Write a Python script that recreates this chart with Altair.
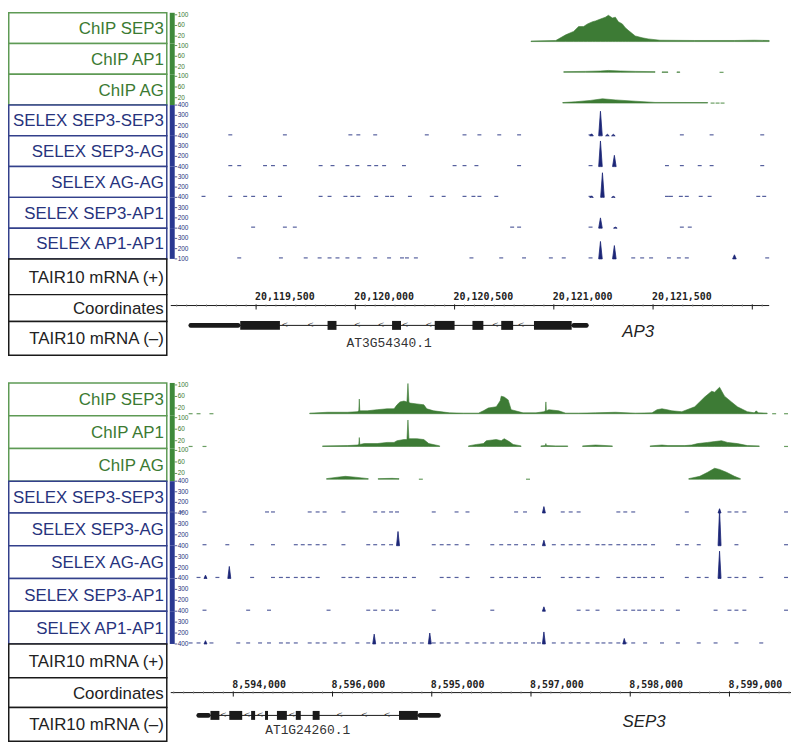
import altair as alt
import pandas as pd

# ------------------------------------------------------------------ data
TRACK_LABELS = ["ChIP SEP3", "ChIP AP1", "ChIP AG", "SELEX SEP3-SEP3", "SELEX SEP3-AG",
                "SELEX AG-AG", "SELEX SEP3-AP1", "SELEX AP1-AP1", "TAIR10 mRNA (+)",
                "Coordinates", "TAIR10 mRNA (\u2013)"]
CHIP_TICKS = [100, 60, 20]
SELEX_TICKS = [400, 300, 200]

# ---- AP3 locus (top panel)
AP3_RANGE = [20119070, 20122085]
AP3_TICK_POS = [20119500, 20120000, 20120500, 20121000, 20121500, 20122000]
AP3_TICK_LABELS = ["20,119,500", "20,120,000", "20,120,500", "20,121,000", "20,121,500", ""]
AP3_LAST_TICK_LABEL = "100"

AP3_CHIP_SEP3 = [[(20120885, 2), (20121010, 4), (20121060, 25), (20121100, 38), (20121125, 56),
                  (20121150, 56), (20121170, 66), (20121195, 74), (20121210, 77), (20121235, 84),
                  (20121260, 91), (20121275, 98), (20121295, 88), (20121310, 91), (20121325, 74),
                  (20121345, 66), (20121360, 52), (20121375, 42), (20121410, 21), (20121445, 14),
                  (20121475, 10), (20121535, 5), (20121710, 4), (20121910, 4), (20122010, 5),
                  (20122085, 4)]]
AP3_CHIP_AP1 = [[(20121050, 2.5), (20121160, 3.5), (20121235, 5), (20121275, 7), (20121335, 5),
                 (20121410, 3.5), (20121510, 2.5)],
                [(20121545, 1.5), (20121575, 1.5)], [(20121620, 1.5), (20121635, 1.5)]]
AP3_CHIP_AG = [[(20121045, 2), (20121110, 5), (20121185, 10), (20121245, 16), (20121310, 12),
                (20121410, 7), (20121510, 2.5), (20121775, 2)]]
AP3_CHIP_DASHES = [[], [20121845], [20121800, 20121825, 20121850]]

AP3_SELEX_SPIKES = [
    [(20121190, 120), (20121235, 340), (20121270, 115), (20121300, 115)],
    [(20121235, 350), (20121305, 210)],
    [(20121190, 110), (20121245, 340), (20121300, 110)],
    [(20121235, 200), (20121310, 110)],
    [(20121235, 270), (20121305, 230), (20121910, 140)],
]
AP3_SELEX_DASHES = [
    [20119370, 20119645, 20119975, 20120015, 20120100, 20120360, 20120550, 20120625, 20120725,
     20120825, 20121185, 20121645, 20121795, 20122050],
    [20119370, 20119415, 20119545, 20119585, 20119645, 20119825, 20119885, 20119960, 20120010,
     20120070, 20120105, 20120145, 20120245, 20120500, 20120550, 20120610, 20120825, 20121185,
     20121570, 20121645, 20121735, 20121795, 20122050],
    [20119235, 20119370, 20119445, 20119485, 20119545, 20119620, 20119825, 20119870, 20119950,
     20119985, 20120015, 20120105, 20120160, 20120185, 20120275, 20120385, 20120445, 20120550,
     20120595, 20120625, 20120710, 20121185, 20121570, 20121590, 20121640, 20121670, 20121740,
     20121785, 20122030, 20122060],
    [20119485, 20119645, 20119695, 20120790, 20120825, 20121185, 20121645, 20121685],
    [20119415, 20119625, 20119750, 20119820, 20119870, 20119910, 20119960, 20120020, 20120100,
     20120170, 20120235, 20120260, 20120305, 20120585, 20120735, 20120850, 20120985, 20121050,
     20121185, 20121400, 20121445, 20121490, 20121580, 20121630, 20121670, 20122075],
]
AP3_EXONS = [(20119420, 20119620), (20119860, 20119905), (20120185, 20120230), (20120400, 20120500),
             (20120590, 20120645), (20120735, 20120795), (20120900, 20121090)]
AP3_UTRS = [(20119160, 20119420), (20121090, 20121175)]
AP3_ARROWS = [20119645, 20119775, 20120010, 20120130, 20120250, 20120370, 20120705, 20120835]
AP3_GENE_ID = ("AT3G54340.1", 20120170)
AP3_GENE_NAME = ("AP3", 20121425)

# ---- SEP3 locus (bottom panel)
SEP3_RANGE = [8593370, 8599620]
SEP3_TICK_POS = [8594000, 8595000, 8596000, 8597000, 8598000, 8599000]
SEP3_TICK_LABELS = ["8,594,000", "8,596,000", "8,595,000", "8,597,000", "8,598,000", "8,599,000"]
SEP3_LAST_TICK_LABEL = "400"

SEP3_CHIP_SEP3 = [[(8594770, 2), (8594950, 5), (8595150, 5), (8595250, 7), (8595265, 10),
                   (8595270, 51), (8595275, 10), (8595290, 10), (8595350, 10), (8595450, 14),
                   (8595550, 17), (8595620, 17), (8595650, 31), (8595680, 41), (8595720, 44),
                   (8595750, 41), (8595760, 105), (8595770, 40), (8595780, 37), (8595850, 34),
                   (8595920, 31), (8595950, 17), (8596020, 10), (8596180, 3), (8596320, 2),
                   (8596470, 2), (8596520, 10), (8596570, 20), (8596650, 24), (8596690, 45),
                   (8596700, 61), (8596730, 58), (8596770, 48), (8596800, 14), (8596920, 3),
                   (8597050, 3), (8597130, 7), (8597145, 10), (8597150, 41), (8597155, 10),
                   (8597180, 14), (8597280, 10), (8597350, 2), (8597480, 2), (8597650, 3),
                   (8597850, 5), (8598050, 2), (8598220, 3), (8598270, 14), (8598320, 17),
                   (8598370, 14), (8598420, 10), (8598520, 7), (8598650, 24), (8598750, 58),
                   (8598820, 78), (8598850, 75), (8598900, 92), (8598950, 61), (8599020, 41),
                   (8599080, 24), (8599180, 7), (8599250, 3), (8599270, 10), (8599290, 3),
                   (8599380, 2)]]
SEP3_CHIP_AP1 = [
    [(8594900, 2), (8595150, 3), (8595250, 5), (8595265, 7), (8595270, 31), (8595275, 7),
     (8595320, 10), (8595450, 10), (8595550, 14), (8595620, 14), (8595650, 20), (8595720, 24),
     (8595750, 24), (8595760, 92), (8595770, 27), (8595800, 27), (8595850, 27), (8595920, 24),
     (8595970, 10), (8596080, 2)],
    [(8596370, 2), (8596450, 7), (8596520, 10), (8596550, 20), (8596650, 24), (8596700, 20),
     (8596730, 27), (8596780, 17), (8596820, 7), (8596900, 2)],
    [(8597100, 2), (8597145, 3), (8597150, 10), (8597155, 3), (8597250, 2), (8597370, 2)],
    [(8597520, 2), (8597650, 5), (8597820, 2)],
    [(8598200, 2), (8598320, 5), (8598380, 3), (8598550, 3), (8598620, 5), (8598680, 10),
     (8598780, 14), (8598850, 17), (8598920, 20), (8598980, 14), (8599080, 10), (8599180, 3),
     (8599300, 2)],
]
SEP3_CHIP_AG = [
    [(8594940, 2), (8595050, 7), (8595130, 10), (8595230, 7), (8595360, 2)],
    [(8595460, 2), (8595600, 3), (8595670, 2)],
    [(8598590, 2), (8598700, 10), (8598780, 24), (8598850, 38), (8598900, 34), (8598970, 24),
     (8599050, 10), (8599110, 2)],
]
SEP3_CHIP_DASHES = [[8593570, 8593650, 8593780, 8599450, 8599570],
                    [8593570, 8593710, 8599570],
                    [8595890, 8596970]]

SEP3_SELEX_SPIKES = [
    [(8597130, 160), (8598900, 140)],
    [(8595660, 230), (8597130, 150), (8598900, 430)],
    [(8593720, 130), (8593960, 210), (8598900, 350)],
    [(8597130, 140)],
    [(8593720, 130), (8595420, 190), (8595980, 200), (8597130, 210), (8597940, 150)],
]
SEP3_SELEX_DASHES = [
    [8593380, 8593480, 8593710, 8594340, 8594400, 8594770, 8594850, 8594920, 8595110, 8595430,
     8595510, 8595590, 8595650, 8596020, 8596250, 8596360, 8596850, 8596940, 8597320, 8597400,
     8597480, 8597880, 8597950, 8598030, 8598570, 8599000, 8599070, 8599150, 8599570],
    [8593710, 8593940, 8594190, 8594400, 8594630, 8594700, 8594770, 8594850, 8594920, 8595110,
     8595360, 8595430, 8595510, 8595590, 8596020, 8596100, 8596170, 8596250, 8596360, 8596610,
     8596700, 8596780, 8596850, 8596940, 8597020, 8597230, 8597320, 8597400, 8597480, 8597570,
     8597670, 8597730, 8597800, 8597880, 8597950, 8598030, 8598090, 8598150, 8598230, 8598480,
     8598570, 8598690, 8599070, 8599570],
    [8593650, 8593840, 8594190, 8594400, 8594480, 8594550, 8594630, 8594700, 8594770, 8594850,
     8595110, 8595180, 8595250, 8595360, 8595430, 8595510, 8595590, 8595650, 8595730, 8595820,
     8596100, 8596170, 8596250, 8596360, 8596610, 8596700, 8596780, 8596850, 8596940, 8597020,
     8597080, 8597320, 8597400, 8597480, 8597570, 8597670, 8597880, 8597950, 8598030, 8598090,
     8598150, 8598230, 8598320, 8598570, 8598690, 8598770, 8599000, 8599070, 8599150, 8599320,
     8599570],
    [8593710, 8594150, 8594360, 8594960, 8595360, 8595430, 8595510, 8595590, 8595650, 8596020,
     8596610, 8597480, 8597570, 8597670, 8597880, 8597950, 8598030, 8598090, 8598150, 8598230,
     8598320, 8598480, 8598860, 8599000, 8599070, 8599150, 8599570],
    [8593570, 8593650, 8593780, 8594050, 8594150, 8594270, 8594360, 8594480, 8594550, 8594630,
     8594770, 8594850, 8594920, 8595030, 8595110, 8595250, 8595360, 8595510, 8595590, 8595650,
     8595730, 8595820, 8595900, 8596020, 8596100, 8596170, 8596250, 8596360, 8596450, 8596530,
     8596610, 8596700, 8596780, 8596850, 8596940, 8597020, 8597080, 8597230, 8597320, 8597400,
     8597480, 8597570, 8597670, 8597730, 8597800, 8597880, 8597950, 8598030, 8598150, 8598320,
     8598480, 8598690, 8598860, 8599070, 8599320],
]
SEP3_EXONS = [(8593770, 8593860), (8593960, 8594090), (8594180, 8594220), (8594320, 8594350),
              (8594440, 8594540), (8594630, 8594680), (8594800, 8594870), (8595670, 8595860)]
SEP3_UTRS = [(8593630, 8593770), (8595860, 8596090)]
SEP3_ARROWS = [8593900, 8594140, 8594270, 8594590, 8595070, 8595320, 8595550]
SEP3_GENE_ID = ("AT1G24260.1", 8594750)
SEP3_GENE_NAME = ("SEP3", 8598140)

# ------------------------------------------------------------------ style
GREEN_FILL = "#3d7b35"
GREEN_DASH = "#6a9e62"
GREEN_TEXT = "#3b7a32"
GREEN_BOX = "#5e9a55"
GREEN_BAR = "#3f8a3a"
BLUE_FILL = "#1c2677"
BLUE_DASH = "#56609e"
BLUE_TEXT = "#27337d"
BLUE_BOX = "#33408b"
BLUE_BAR = "#2a3891"
BLACK = "#1a1a1a"
LABEL_W = 164      # width of the label column (track area starts here)
BOX_RIGHT = 160    # right edge of the label boxes

PANELS = [
    dict(rng=AP3_RANGE, width=603, heights=[31, 31, 31, 31, 31, 31, 31, 31, 36, 27, 34],
         tick_pos=AP3_TICK_POS, tick_labels=AP3_TICK_LABELS, minor_step=50,
         last_label=AP3_LAST_TICK_LABEL,
         chip=[AP3_CHIP_SEP3, AP3_CHIP_AP1, AP3_CHIP_AG], chip_dashes=AP3_CHIP_DASHES,
         spikes=AP3_SELEX_SPIKES, dashes=AP3_SELEX_DASHES, dash_half=10, spike_half=9,
         exons=AP3_EXONS, utrs=AP3_UTRS, arrows=AP3_ARROWS, gid=AP3_GENE_ID, gname=AP3_GENE_NAME,
         axis_y=11, label_y=2, gene_y=4, gid_y=22, gname_y=11),
    dict(rng=SEP3_RANGE, width=625, heights=[33, 33, 33, 32, 33, 33, 33, 33, 34, 30, 34],
         tick_pos=SEP3_TICK_POS, tick_labels=SEP3_TICK_LABELS, minor_step=100,
         last_label=SEP3_LAST_TICK_LABEL,
         chip=[SEP3_CHIP_SEP3, SEP3_CHIP_AP1, SEP3_CHIP_AG], chip_dashes=SEP3_CHIP_DASHES,
         spikes=SEP3_SELEX_SPIKES, dashes=SEP3_SELEX_DASHES, dash_half=20, spike_half=15,
         exons=SEP3_EXONS, utrs=SEP3_UTRS, arrows=SEP3_ARROWS, gid=SEP3_GENE_ID, gname=SEP3_GENE_NAME,
         axis_y=15, label_y=7, gene_y=8, gid_y=23, gname_y=15),
]

DUMMY = pd.DataFrame({"d": [0]})


def xscale(p):
    return alt.Scale(domain=p["rng"], range=[LABEL_W, LABEL_W + p["width"]], nice=False, zero=False)


def label_layers(i, h):
    if i < 3:
        stroke, color = GREEN_BOX, GREEN_TEXT
    elif i < 8:
        stroke, color = BLUE_BOX, BLUE_TEXT
    else:
        stroke, color = BLACK, "#222222"
    df = pd.DataFrame({"label": [TRACK_LABELS[i]]})
    box = alt.Chart(df).mark_rect(fill="white", stroke=stroke, strokeWidth=1.5).encode(
        x=alt.value(0.75), x2=alt.value(BOX_RIGHT), y=alt.value(0), y2=alt.value(h))
    txt = alt.Chart(df).mark_text(align="right", baseline="middle", fontSize=17,
                                  font="Liberation Sans", color=color).encode(
        x=alt.value(BOX_RIGHT - 3), y=alt.value(h / 2 + 1), text="label:N")
    return [box, txt]


def side_axis(h, ys, ticks, labels, bar_color, text_color):
    x0 = LABEL_W
    bar = alt.Chart(DUMMY).mark_rect(color=bar_color).encode(
        x=alt.value(x0 - 1), x2=alt.value(x0 + 4), y=alt.value(0), y2=alt.value(h))
    tdf = pd.DataFrame({"v": ticks, "t": labels})
    tk = alt.Chart(tdf).mark_rule(color=text_color, strokeWidth=0.8).encode(
        x=alt.value(x0 + 4), x2=alt.value(x0 + 6.5), y=alt.Y("v:Q", scale=ys, axis=None))
    tx = alt.Chart(tdf).mark_text(align="left", baseline="middle", fontSize=6.5,
                                  font="Liberation Sans", color=text_color).encode(
        x=alt.value(x0 + 7), y=alt.Y("v:Q", scale=ys, axis=None), text="t:N")
    return [bar, tk, tx]


def dash_layer(centers, half, xs, y, color):
    df = pd.DataFrame({"s": [c - half for c in centers], "e": [c + half for c in centers]})
    return alt.Chart(df).mark_rule(color=color, strokeWidth=1.2).encode(
        x=alt.X("s:Q", scale=xs, axis=None), x2=alt.X2("e"), y=alt.value(y))


def chip_layers(p, i, h):
    xs = xscale(p)
    k = (h - 4) / 100.0
    ys = alt.Scale(domain=[-2 / k, (h - 2) / k], nice=False, zero=False)
    rows = []
    for s, seg in enumerate(p["chip"][i]):
        for pos, val in seg:
            rows.append({"pos": pos, "val": val, "seg": s, "base": 0})
    area = alt.Chart(pd.DataFrame(rows)).mark_area(
        color=GREEN_FILL, stroke=GREEN_FILL, strokeWidth=0.6, interpolate="linear").encode(
        x=alt.X("pos:Q", scale=xs, axis=None), y=alt.Y("val:Q", scale=ys, axis=None),
        y2=alt.Y2("base"), detail="seg:N")
    layers = side_axis(h, ys, CHIP_TICKS, [str(t) for t in CHIP_TICKS], GREEN_BAR, GREEN_TEXT)
    if p["chip_dashes"][i]:
        layers.append(dash_layer(p["chip_dashes"][i], p["dash_half"], xs, h - 2, GREEN_DASH))
    layers.append(area)
    return layers


def selex_layers(p, j, h, last):
    xs = xscale(p)
    ys = alt.Scale(domain=[100, 400], nice=False, zero=False)
    rows = []
    for s, (c, v) in enumerate(p["spikes"][j]):
        hw = p["spike_half"]
        rows += [{"pos": c - hw, "val": 100, "seg": s, "base": 100},
                 {"pos": c, "val": v, "seg": s, "base": 100},
                 {"pos": c + hw, "val": 100, "seg": s, "base": 100}]
    spikes = alt.Chart(pd.DataFrame(rows)).mark_area(
        color=BLUE_FILL, stroke=BLUE_FILL, strokeWidth=0.8, interpolate="linear").encode(
        x=alt.X("pos:Q", scale=xs, axis=None), y=alt.Y("val:Q", scale=ys, axis=None),
        y2=alt.Y2("base"), detail="seg:N")
    ticks = list(SELEX_TICKS)
    labels = [str(t) for t in SELEX_TICKS]
    if last:
        ticks.append(100)
        labels.append(p["last_label"])
    layers = side_axis(h, ys, ticks, labels, BLUE_BAR, BLUE_TEXT)
    layers.append(dash_layer(p["dashes"][j], p["dash_half"], xs, h - 1, BLUE_DASH))
    layers.append(spikes)
    return layers


def coord_layers(p, h):
    xs = xscale(p)
    ay = p["axis_y"]
    lo, hi = p["rng"]
    first = (lo // p["minor_step"] + 1) * p["minor_step"]
    minor = pd.DataFrame({"pos": list(range(int(first), int(hi), p["minor_step"]))})
    major = pd.DataFrame({"pos": p["tick_pos"], "t": p["tick_labels"]})
    line = alt.Chart(DUMMY).mark_rule(color=BLACK, strokeWidth=1).encode(
        x=alt.value(LABEL_W), x2=alt.value(LABEL_W + p["width"]), y=alt.value(ay))
    mn = alt.Chart(minor).mark_rule(color="#9a9a9a", strokeWidth=0.7).encode(
        x=alt.X("pos:Q", scale=xs, axis=None), y=alt.value(ay - 1.5), y2=alt.value(ay + 1.5))
    mj = alt.Chart(major).mark_rule(color=BLACK, strokeWidth=1).encode(
        x=alt.X("pos:Q", scale=xs, axis=None), y=alt.value(ay - 1), y2=alt.value(ay + 4))
    tx = alt.Chart(major).mark_text(align="left", baseline="middle", dx=-1, fontSize=10,
                                    font="DejaVu Sans Mono", fontWeight="bold",
                                    color="#222222").encode(
        x=alt.X("pos:Q", scale=xs, axis=None), y=alt.value(p["label_y"]), text="t:N")
    return [line, mn, mj, tx]


def gene_layers(p, h):
    xs = xscale(p)
    gy = p["gene_y"]
    starts = [a for a, b in p["utrs"] + p["exons"]]
    ends = [b for a, b in p["utrs"] + p["exons"]]
    span = pd.DataFrame({"s": [min(starts)], "e": [max(ends)]})
    intron = alt.Chart(span).mark_rule(color=BLACK, strokeWidth=1).encode(
        x=alt.X("s:Q", scale=xs, axis=None), x2=alt.X2("e"), y=alt.value(gy))
    arrows = alt.Chart(pd.DataFrame({"pos": p["arrows"]})).mark_text(
        text="<", fontSize=8, font="DejaVu Sans", color="#333333", baseline="middle").encode(
        x=alt.X("pos:Q", scale=xs, axis=None), y=alt.value(gy))
    utr = alt.Chart(pd.DataFrame(p["utrs"], columns=["s", "e"])).mark_rect(
        color=BLACK, cornerRadius=2).encode(
        x=alt.X("s:Q", scale=xs, axis=None), x2=alt.X2("e"),
        y=alt.value(gy - 2.3), y2=alt.value(gy + 2.3))
    exon = alt.Chart(pd.DataFrame(p["exons"], columns=["s", "e"])).mark_rect(color=BLACK).encode(
        x=alt.X("s:Q", scale=xs, axis=None), x2=alt.X2("e"),
        y=alt.value(gy - 4.5), y2=alt.value(gy + 4.5))
    gid = alt.Chart(pd.DataFrame({"t": [p["gid"][0]], "pos": [p["gid"][1]]})).mark_text(
        font="Liberation Mono", fontSize=13, color="#333333", baseline="middle").encode(
        x=alt.X("pos:Q", scale=xs, axis=None), y=alt.value(p["gid_y"]), text="t:N")
    gname = alt.Chart(pd.DataFrame({"t": [p["gname"][0]], "pos": [p["gname"][1]]})).mark_text(
        font="Liberation Sans", fontStyle="italic", fontSize=17, color="#222222",
        baseline="middle").encode(
        x=alt.X("pos:Q", scale=xs, axis=None), y=alt.value(p["gname_y"]), text="t:N")
    return [intron, arrows, utr, exon, gid, gname]


def panel_rows(p):
    rows = []
    for i, h in enumerate(p["heights"]):
        layers = label_layers(i, h)
        if i < 3:
            layers += chip_layers(p, i, h)
        elif i < 8:
            layers += selex_layers(p, i - 3, h, last=(i == 7))
        elif i == 9:
            layers += coord_layers(p, h)
        elif i == 10:
            layers += gene_layers(p, h)
        rows.append(alt.layer(*layers).properties(width=LABEL_W + p["width"], height=h))
    return rows


spacer = alt.Chart(DUMMY).mark_rule(opacity=0).encode(
    x=alt.value(0), y=alt.value(0)).properties(width=LABEL_W + PANELS[1]["width"], height=28)

chart = alt.vconcat(*panel_rows(PANELS[0]), spacer, *panel_rows(PANELS[1]),
                    spacing=0, bounds="flush").properties(padding=0).configure_view(stroke=None)

chart.save("out.html", embed_options={"renderer": "svg", "actions": False})
